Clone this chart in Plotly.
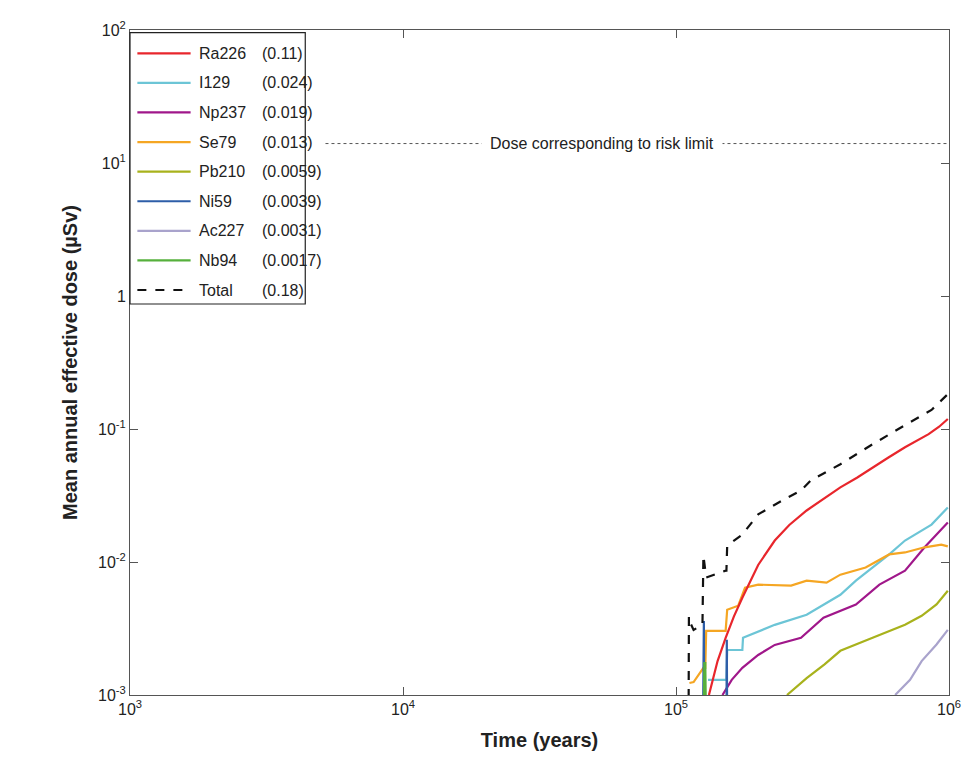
import plotly.graph_objects as go

# nuclide dose curves (years, µSv)
ra226_t = [1.32e5, 1.42e5, 1.52e5, 1.63e5, 1.75e5, 2.0e5, 2.30e5, 2.6e5, 3.01e5, 3.5e5, 4.0e5, 4.6e5,
           5.25e5, 6.0e5, 6.90e5, 7.7e5, 8.42e5, 9.2e5, 9.9e5]
ra226_d = [0.001, 0.0018, 0.00269, 0.0039, 0.00539, 0.0095, 0.0145, 0.019, 0.0244, 0.030, 0.0364, 0.043,
           0.0515, 0.061, 0.0729, 0.082, 0.0914, 0.104, 0.119]

i129_t = [1.31e5, 1.52e5, 1.53e5, 1.54e5, 1.75e5, 1.76e5, 2.06e5, 2.30e5, 3.01e5, 3.47e5, 4.0e5,
          4.56e5, 5.25e5, 6.04e5, 6.90e5, 8.63e5, 9.9e5]
i129_d = [0.0013, 0.0013, 0.0013, 0.00218, 0.00218, 0.00269, 0.00309, 0.00337, 0.00401, 0.00478,
          0.00567, 0.00724, 0.00908, 0.0114, 0.0145, 0.0191, 0.0257]

np237_t = [1.48e5, 1.6e5, 1.75e5, 2.0e5, 2.30e5, 2.87e5, 3.47e5, 4.56e5, 5.56e5, 6.90e5, 8.14e5, 9.9e5]
np237_d = [0.001, 0.0013, 0.0016, 0.002, 0.00238, 0.00269, 0.00381, 0.00478, 0.00676, 0.00861, 0.0129, 0.0198]

se79_t = [1.12e5, 1.16e5, 1.26e5, 1.28e5, 1.29e5, 1.52e5, 1.54e5, 1.69e5, 1.79e5, 2.0e5, 2.64e5,
          3.01e5, 3.56e5, 4.0e5, 4.95e5, 5.56e5, 6.04e5, 6.90e5, 8.14e5, 9.37e5, 9.9e5]
se79_d = [0.00123, 0.00125, 0.0016, 0.0016, 0.00304, 0.00304, 0.00438, 0.00469, 0.00641, 0.00676,
          0.00664, 0.00724, 0.007, 0.00803, 0.00908, 0.0103, 0.0114, 0.0118, 0.0129, 0.0135, 0.0131]

pb210_t = [2.55e5, 3.01e5, 3.5e5, 4.0e5, 5.25e5, 6.90e5, 7.94e5, 9.0e5, 9.9e5]
pb210_d = [0.001, 0.00134, 0.0017, 0.00215, 0.00269, 0.00337, 0.00394, 0.0048, 0.00608]

ni59_t = [1.255e5, 1.26e5, 1.265e5, 1.27e5, 1.53e5, 1.535e5, 1.54e5]
ni59_d = [0.0005, 0.0036, 0.0036, 0.0005, 0.0005, 0.0026, 0.0005]

ac227_t = [6.35e5, 7.2e5, 7.94e5, 9.0e5, 9.9e5]
ac227_d = [0.001, 0.0013, 0.0018, 0.0024, 0.00309]

nb94_t = [1.26e5, 1.27e5, 1.28e5, 1.29e5]
nb94_d = [0.0005, 0.00174, 0.00174, 0.0005]

total_t = [1.11e5, 1.115e5, 1.12e5, 1.16e5, 1.25e5, 1.26e5, 1.29e5, 1.52e5, 1.53e5, 1.54e5, 1.75e5,
           2.0e5, 2.49e5, 2.87e5, 3.12e5, 4.0e5, 5.25e5, 6.90e5, 8.63e5, 9.9e5]
total_d = [0.0002, 0.0039, 0.00361, 0.00309, 0.00337, 0.0112, 0.00763, 0.00861, 0.00861, 0.0133, 0.0161,
           0.0228, 0.0296, 0.0345, 0.0411, 0.0543, 0.0768, 0.107, 0.139, 0.183]

risk_limit = 14

names = ["Ra226", "I129", "Np237", "Se79", "Pb210", "Ni59", "Ac227", "Nb94", "Total"]
peaks = ["(0.11)", "(0.024)", "(0.019)", "(0.013)", "(0.0059)", "(0.0039)", "(0.0031)", "(0.0017)", "(0.18)"]
colors = ["#e8262c", "#6cc5d6", "#a0178a", "#f5a623", "#a8b21c", "#2e5ea8", "#a9a3cc", "#56b03c", "#111111"]
series = [(ra226_t, ra226_d), (i129_t, i129_d), (np237_t, np237_d), (se79_t, se79_d),
          (pb210_t, pb210_d), (ni59_t, ni59_d), (ac227_t, ac227_d), (nb94_t, nb94_d),
          (total_t, total_d)]

fig = go.Figure()
fig.add_trace(go.Scatter(x=[5.2e3, 1e6], y=[risk_limit] * 2, mode="lines", showlegend=False,
                         line=dict(color="#555", width=1, dash="dot")))
order = [6, 4, 2, 1, 3, 0, 5, 7, 8]
for i in order:
    t, d = series[i]
    fig.add_trace(go.Scatter(x=t, y=d, mode="lines", showlegend=False,
                             line=dict(color=colors[i], width=2.2,
                                       dash="dash" if names[i] == "Total" else "solid")))

fig.add_annotation(x=4.73, y=1.146, xref="x", yref="y", text="Dose corresponding to risk limit",
                   showarrow=False, bgcolor="white", borderpad=8, font=dict(size=16, color="#222"))

# legend drawn by hand
fig.add_shape(type="rect", xref="paper", yref="paper", x0=0.0, x1=0.214, y0=0.588, y1=0.996,
              line=dict(color="#222", width=1.2), fillcolor="white")
for k, name in enumerate(names):
    yp = 0.965 - k * 0.0445
    fig.add_shape(type="line", xref="paper", yref="paper", x0=0.009, x1=0.074, y0=yp, y1=yp,
                  line=dict(color=colors[k], width=2.2, dash="dash" if name == "Total" else "solid"))
    fig.add_annotation(xref="paper", yref="paper", x=0.082, y=yp, yanchor="middle", text=name,
                       showarrow=False, xanchor="left", font=dict(size=16, color="#222"))
    fig.add_annotation(xref="paper", yref="paper", x=0.159, y=yp, yanchor="middle", text=peaks[k],
                       showarrow=False, xanchor="left", font=dict(size=16, color="#222"))

fig.update_layout(
    width=971, height=769, plot_bgcolor="white", paper_bgcolor="white",
    margin=dict(l=122, r=30, t=22, b=82),
    font=dict(family="Liberation Sans, Arial", size=16, color="#222"),
    xaxis=dict(type="log", range=[3, 6], title=dict(text="<b>Time (years)</b>", font=dict(size=20)),
               tickvals=[1e3, 1e4, 1e5, 1e6],
               ticktext=["10<sup>3</sup>", "10<sup>4</sup>", "10<sup>5</sup>", "10<sup>6</sup>"],
               ticks="inside", ticklen=8, mirror="ticks", showline=True, linecolor="#555",
               tickcolor="#555", showgrid=False, zeroline=False),
    yaxis=dict(type="log", range=[-3, 2],
               title=dict(text="<b>Mean annual effective dose (µSv)</b>", font=dict(size=20)),
               tickvals=[1e-3, 1e-2, 1e-1, 1, 10, 100],
               ticktext=["10<sup>-3</sup>", "10<sup>-2</sup>", "10<sup>-1</sup>", "1",
                         "10<sup>1</sup>", "10<sup>2</sup>"],
               ticks="inside", ticklen=8, mirror="ticks", showline=True, linecolor="#555",
               tickcolor="#555", showgrid=False, zeroline=False),
)

fig.write_html("out.html")
